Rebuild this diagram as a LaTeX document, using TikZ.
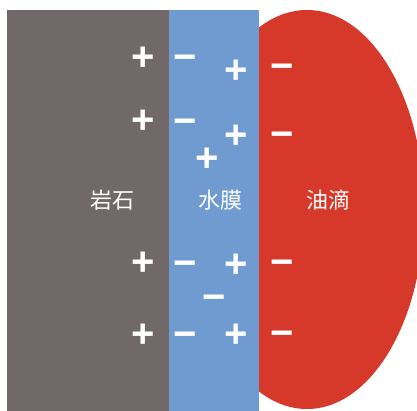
\documentclass[tikz,border=0pt]{standalone}
\usepackage{fontspec}
\setmainfont{Liberation Sans}
\newfontfamily\cjk{Noto Sans CJK SC}
\definecolor{rockgray}{RGB}{113,104,105}
\definecolor{filmblue}{RGB}{111,155,208}
\definecolor{oilred}{RGB}{214,56,41}
\begin{document}
\begin{tikzpicture}[x=1pt,y=-1pt,
  sign/.style={text=white,inner sep=0pt,anchor=base,yshift=-14.2pt,font=\fontsize{40}{40}\selectfont\bfseries},
  lbl/.style={text=white,inner sep=0pt,font=\cjk\fontsize{22}{22}\selectfont}]
\useasboundingbox (0,0) rectangle (417,411);
\fill[white] (0,0) rectangle (417,411);
\begin{scope}
\clip (0,0) rectangle (417,411);
\fill[oilred] (307,209.5) ellipse [x radius=117, y radius=199.5];
\end{scope}
\fill[rockgray] (7,10) rectangle (169,411);
\fill[filmblue] (169,10) rectangle (259,411);
% labels
\node[lbl] (rock) at (112,200) {岩石};
\node[lbl] (film) at (220,200) {水膜};
\node[lbl] (oil) at (328,200) {油滴};
% row 1
\node[sign] (p1) at (143.5,56) {+};
\node[sign] (m1) at (185.5,56) {−};
\node[sign] (q1) at (236.5,69.5) {+};
\node[sign] (n1) at (282.5,65) {−};
% row 2
\node[sign] (p2) at (143.5,119) {+};
\node[sign] (m2) at (185.5,120) {−};
\node[sign] (q2) at (236.5,134.5) {+};
\node[sign] (n2) at (282.5,133) {−};
\node[sign] (q5) at (206.7,157.5) {+};
% row 3
\node[sign] (p3) at (143.5,261) {+};
\node[sign] (m3) at (185.5,262) {−};
\node[sign] (q3) at (236.5,263.5) {+};
\node[sign] (n3) at (282.5,261) {−};
\node[sign] (m5) at (214,296.7) {−};
% row 4
\node[sign] (p4) at (143.5,333) {+};
\node[sign] (m4) at (185.5,333) {−};
\node[sign] (q4) at (236.5,333) {+};
\node[sign] (n4) at (282.5,332.7) {−};
\end{tikzpicture}
\end{document}
